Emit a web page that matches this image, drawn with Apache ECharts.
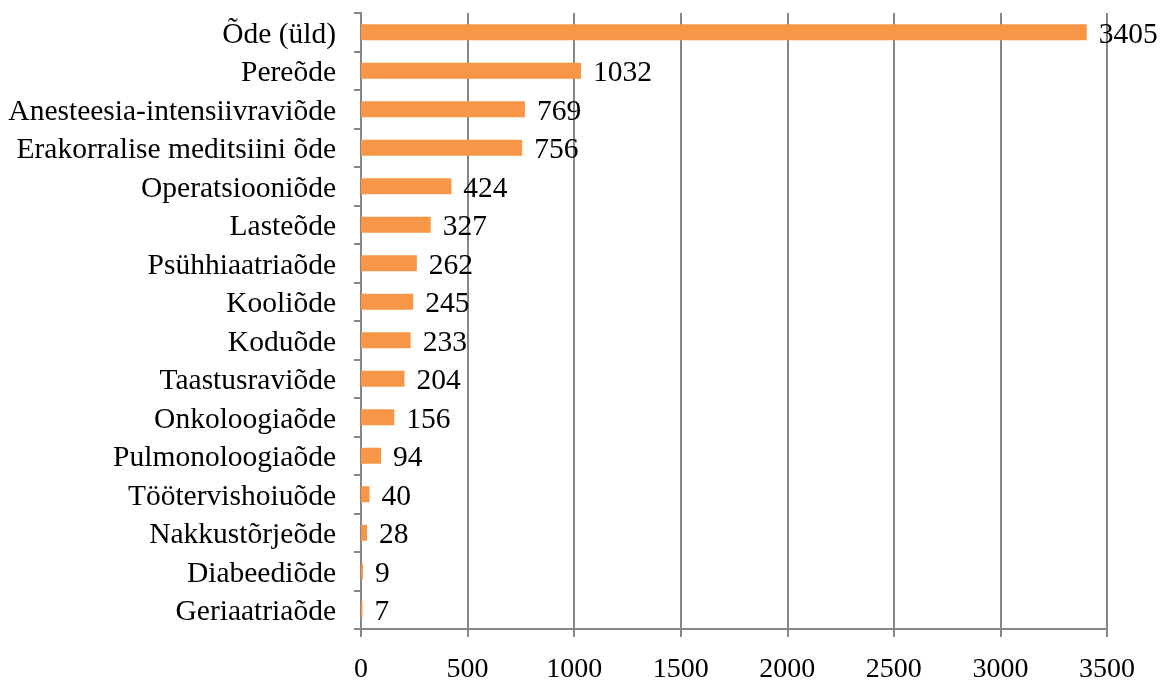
<!DOCTYPE html>
<html>
<head>
<meta charset="utf-8">
<script src="https://cdn.jsdelivr.net/npm/echarts@6/dist/echarts.min.js"></script>
<style>html,body{margin:0;padding:0;background:#fff}#c{width:1160px;height:684px}</style>
</head>
<body>
<div id="c"></div>
<script>
const categories = ["Õde (üld)","Pereõde","Anesteesia-intensiivraviõde","Erakorralise meditsiini õde","Operatsiooniõde","Lasteõde","Psühhiaatriaõde","Kooliõde","Koduõde","Taastusraviõde","Onkoloogiaõde","Pulmonoloogiaõde","Töötervishoiuõde","Nakkustõrjeõde","Diabeediõde","Geriaatriaõde"];
const values = [3405,1032,769,756,424,327,262,245,233,204,156,94,40,28,9,7];
const xTicks = [0,500,1000,1500,2000,2500,3000,3500];

const font = "'Liberation Serif', 'Times New Roman', serif";
const chart = echarts.init(document.getElementById('c'), null, {renderer:'canvas'});
chart.setOption({
  animation:false,
  grid:{left:361,right:53,top:13,bottom:50,containLabel:false},
  xAxis:{
    type:'value', min:xTicks[0], max:xTicks[xTicks.length-1], interval:500,
    axisLine:{show:true,lineStyle:{color:'#868686',width:2}},
    axisTick:{show:true,length:8,lineStyle:{color:'#868686',width:2}},
    splitLine:{show:true,lineStyle:{color:'#868686',width:2}},
    axisLabel:{color:'#000',fontFamily:font,fontSize:28,margin:27,formatter:v=>String(v)}
  },
  yAxis:{
    type:'category', inverse:true, data:categories,
    axisLine:{show:true,lineStyle:{color:'#868686',width:2}},
    axisTick:{show:true,length:7,lineStyle:{color:'#868686',width:2}},
    axisLabel:{color:'#000',fontFamily:font,fontSize:29.5,margin:25,interval:0,
      formatter:v=>'{t|'+v+'}',
      rich:{t:{fontFamily:font,fontSize:29.5,color:'#000',padding:[5,0,0,0]}}}
  },
  series:[{
    type:'bar', data:values, barWidth:16,
    itemStyle:{color:'#F79646'},
    label:{show:true,position:'right',distance:12,offset:[0,2.5],color:'#000',fontFamily:font,fontSize:29.5}
  }]
});
</script>
</body>
</html>
